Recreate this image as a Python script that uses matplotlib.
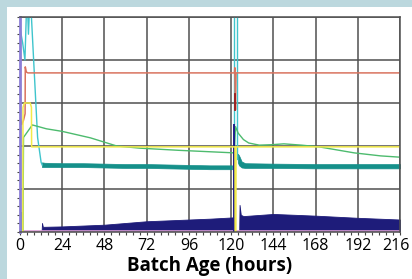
import numpy as np
import matplotlib
matplotlib.use("Agg")
import matplotlib.pyplot as plt
from matplotlib.patches import Rectangle
from matplotlib.transforms import ScaledTranslation

plt.rcParams['font.family'] = ['Open Sans', 'DejaVu Sans']

# --- data (x = batch age in hours) ---
red_t = [0, 1, 2, 2.9, 3.0, 3.6, 4.5, 60, 121.9, 122.1, 122.3, 122.5, 122.8, 216]
red_v = [2.67, 2.5, 2.6, 2.75, 3.84, 3.72, 3.70, 3.70, 3.70, 3.82, 3.2, 2.84, 3.70, 3.70]
darkred_t = [122.4, 122.4]
darkred_v = [3.2, 2.84]

cyan_t = [0, 1.5, 2.8, 4.0, 4.8, 5.8, 6.5, 10, 12, 12.6]
cyan_v = [4.74, 4.4, 4.0, 5.6, 4.6, 5.6, 5.0, 2.2, 1.62, 1.56]
cyan2_t = [121.8, 121.8, 123.4, 123.4]
cyan2_v = [1.5, 5.5, 5.5, 1.7]

teal_t1 = [12.5, 14, 24, 36, 48, 60, 72, 84, 96, 108, 120.5]
teal_lo1 = [1.51, 1.51, 1.51, 1.51, 1.50, 1.49, 1.49, 1.48, 1.47, 1.46, 1.46]
teal_hi1 = [1.62, 1.61, 1.60, 1.60, 1.59, 1.58, 1.58, 1.57, 1.56, 1.55, 1.55]
teal_t2 = [123.8, 124.5, 126, 128, 144, 168, 192, 216]
teal_lo2 = [1.62, 1.55, 1.50, 1.49, 1.49, 1.48, 1.48, 1.48]
teal_hi2 = [1.82, 1.78, 1.64, 1.60, 1.59, 1.58, 1.58, 1.58]

green_t = [0, 0.8, 1.0, 1.3, 1.7, 2.0, 7.0, 15, 24, 40, 55, 68, 90, 121.8,
           122.5, 124, 127, 130, 136, 143, 150, 160, 170, 180, 190, 205, 216]
green_v = [0, 0, 0.45, 0, 0, 2.2, 2.49, 2.40, 2.34, 2.19, 2.0, 1.95, 1.9, 1.84,
           2.45, 2.3, 2.15, 2.07, 2.02, 2.03, 2.05, 2.02, 1.98, 1.91, 1.84, 1.77, 1.74]

yellow_t = [0, 1.6, 1.7, 2.5, 5.8, 6.5, 6.6, 122.2, 122.3, 122.7, 122.8, 216]
yellow_v = [0, 0, 2.9, 3.0, 3.0, 2.9, 1.98, 1.98, 0, 0, 1.98, 1.98]

navy_t1 = [12.3, 12.5, 13, 24, 36, 48, 60, 72, 84, 96, 108, 121.2]
navy_hi1 = [0.02, 0.21, 0.12, 0.13, 0.15, 0.17, 0.21, 0.25, 0.27, 0.29, 0.31, 0.34]
navy_t2 = [124.6, 124.8, 125.5, 127, 144, 168, 192, 216]
navy_hi2 = [0.02, 0.63, 0.40, 0.37, 0.42, 0.38, 0.33, 0.29]
navy_spike_t = [121.5, 121.5]
navy_spike_v = [0, 2.5]

pink_t = [0, 216]
pink_v = [0.02, 0.02]

xticks = list(range(0, 217, 24))

# --- figure ---
fig = plt.figure(figsize=(4.12, 2.79), dpi=100, facecolor='#bcd8de')
fig.add_artist(Rectangle((7 / 412, 0), 1, 1 - 7 / 279, transform=fig.transFigure,
                         facecolor='white', edgecolor='none', zorder=-1))
ax = fig.add_axes([20 / 412, 1 - 232 / 279, 380 / 412, 215 / 279])

grid_c = '#505050'
ax.fill_between(navy_t1, 0.02, navy_hi1, color='#1e1c7a', lw=0.6)
ax.fill_between(navy_t2, 0.02, navy_hi2, color='#1e1c7a', lw=0.6)
ax.plot(pink_t, pink_v, color='#d99bd3', lw=1.2)
ax.fill_between(teal_t1, teal_lo1, teal_hi1, color='#15908a', lw=0.5)
ax.fill_between(teal_t2, teal_lo2, teal_hi2, color='#15908a', lw=0.5)
ax.plot(cyan_t, cyan_v, color='#3fc4cc', lw=1.0)
ax.plot(cyan2_t, cyan2_v, color='#3fc4cc', lw=1.0)
ax.plot(green_t, green_v, color='#4dbb6e', lw=1.0)
ax.plot(red_t, red_v, color='#d9735f', lw=1.1)
ax.plot(darkred_t, darkred_v, color='#9a1a1a', lw=1.3)
ax.plot(navy_spike_t, navy_spike_v, color='#1e1c8a', lw=1.4)
ax.plot(yellow_t, yellow_v, color='#f2ea4a', lw=1.1)

ax.set_xlim(0, 216)
ax.set_ylim(0, 5)
ax.set_xticks(xticks)
ax.set_xticklabels([str(t) for t in xticks])
ax.set_xticks(range(0, 217, 4), minor=True)
ax.set_yticks(range(0, 6))
ax.set_yticks(np.arange(0, 5.01, 0.2), minor=True)
ax.set_yticklabels([])
ax.tick_params(which='both', direction='out', length=2.5, width=0.8, color='#444444')
ax.tick_params(axis='x', labelsize=11.5, pad=2)
# the last label sits a little inside the edge, as in the original
last = ax.get_xticklabels()[-1]
last.set_transform(last.get_transform() + ScaledTranslation(-4 / 100, 0, fig.dpi_scale_trans))
ax.grid(True, which='major', color=grid_c, lw=1.1)
ax.set_axisbelow(True)

for s in ['top', 'right', 'bottom']:
    ax.spines[s].set_color(grid_c)
    ax.spines[s].set_linewidth(1.1)
ax.spines['left'].set_color('#8c7fd6')
ax.spines['left'].set_linewidth(2)

ax.set_xlabel('Batch Age (hours)', fontsize=13.5, fontweight='bold', labelpad=1)

fig.savefig('out.png', dpi=100, facecolor=fig.get_facecolor())
